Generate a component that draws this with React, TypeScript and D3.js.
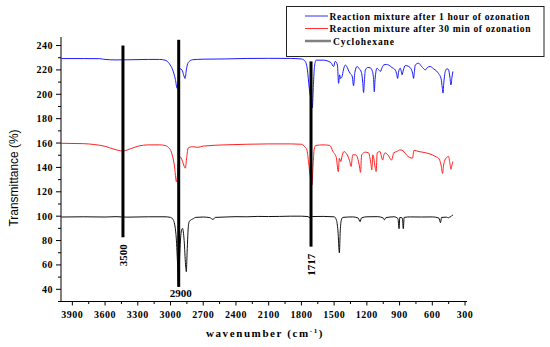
import React from 'react';
import * as d3 from 'd3';

// FTIR spectra, [wavenumber cm-1, transmittance %]
const oneHourSpectrum: [number, number][] = [
  [4000, 229.3], [3800, 229.3], [3650, 229.2], [3600, 228.6], [3500, 228.2], [3400, 228.3], [3200, 228.6],
  [3100, 228.6], [3050, 228], [3010, 225], [2980, 220], [2955, 212], [2940, 205], [2928, 212], [2915, 221],
  [2895, 220], [2880, 216], [2866, 213], [2855, 220], [2838, 226], [2800, 228.3], [2700, 228.8], [2500, 229],
  [2300, 229.4], [2100, 229.5], [1900, 229.4], [1800, 229], [1765, 227], [1745, 220], [1728, 205], [1712, 195],
  [1700, 189], [1690, 208], [1680, 223], [1665, 228], [1600, 228], [1530, 226], [1505, 222.8], [1490, 227], [1470, 224],
  [1459, 209], [1450, 216], [1440, 213], [1428, 214.5], [1415, 220], [1398, 224], [1380, 222], [1365, 219],
  [1352, 217], [1335, 215], [1322, 207], [1310, 218], [1290, 222.8], [1270, 221], [1250, 218], [1238, 210],
  [1230, 201.4], [1222, 212], [1214, 220], [1190, 222], [1169, 221.7], [1150, 219], [1138, 212], [1132, 202],
  [1125, 212], [1107, 221.4], [1090, 220], [1077, 218.7], [1060, 222], [1047, 224], [1020, 224.5], [1001, 224],
  [970, 222], [940, 220], [925, 216], [918, 213], [910, 218], [894, 221.4], [885, 219], [878, 216], [865, 220],
  [848, 223.6], [820, 223], [790, 220], [778, 216], [772, 213], [765, 218], [756, 224], [726, 225.5], [700, 223],
  [680, 221], [665, 220], [645, 222], [619, 222.8], [590, 221], [560, 219], [543, 217], [520, 213], [508, 205],
  [502, 201], [496, 208], [481, 218.7], [465, 221], [451, 220], [440, 215], [429, 207.7], [420, 214], [411, 218.7],
];

const halfHourSpectrum: [number, number][] = [
  [4000, 159.8], [3800, 159.5], [3700, 158.8], [3600, 157.3], [3520, 155], [3440, 153.5], [3360, 155.5],
  [3290, 157.6], [3200, 158.5], [3100, 158.5], [3050, 158], [3020, 156.5], [2990, 152], [2965, 142], [2945, 128],
  [2932, 138], [2918, 149], [2905, 148], [2890, 145], [2875, 141], [2864, 139.4], [2852, 148], [2838, 156],
  [2800, 157], [2750, 156.5], [2700, 157.5], [2500, 158.5], [2300, 159], [2100, 159.3], [1900, 159.3], [1800, 159],
  [1770, 157], [1750, 154.4], [1735, 145], [1718, 132], [1703, 125.6], [1693, 142], [1683, 155], [1670, 158],
  [1600, 158.5], [1540, 158], [1510, 153], [1480, 148], [1462, 136.6], [1452, 147.6], [1440, 144.8], [1425, 150],
  [1410, 153], [1380, 150.3], [1360, 146], [1344, 140.8], [1330, 150.3], [1300, 150.3], [1270, 142], [1258, 136],
  [1248, 150.3], [1215, 152.5], [1185, 152], [1163, 143], [1155, 138], [1145, 150.3], [1122, 139], [1115, 136.6],
  [1105, 152], [1080, 153], [1055, 146], [1045, 150], [1034, 152], [1000, 149.4], [975, 146], [960, 150],
  [955, 152], [925, 153], [895, 154.4], [860, 153], [835, 150], [782, 147.6], [768, 154], [722, 153], [660, 152],
  [600, 150.3], [560, 148.5], [543, 147.6], [520, 142], [506, 135], [498, 141], [485, 146], [470, 148],
  [451, 149], [440, 144], [429, 138.5], [420, 142], [411, 144.8],
];

const cyclohexaneSpectrum: [number, number][] = [
  [4000, 99.3], [3800, 99.5], [3600, 99.3], [3500, 99.6], [3400, 99.2], [3200, 99.5], [3050, 99.5], [3000, 99],
  [2975, 97], [2950, 85], [2935, 60], [2926, 42], [2915, 70], [2900, 88], [2890, 90], [2875, 80], [2862, 60],
  [2855, 54.5], [2848, 70], [2835, 93], [2825, 96], [2790, 98], [2770, 99], [2700, 99.3], [2640, 98.8],
  [2610, 97.3], [2590, 99], [2500, 99.3], [2400, 99.6], [2300, 99.5], [2200, 99.8], [2100, 99.7], [2000, 99.8],
  [1900, 100], [1800, 100], [1740, 99.7], [1720, 98.5], [1700, 99.7], [1600, 99.8], [1500, 99.5], [1480, 97],
  [1465, 88], [1452, 70], [1444, 88], [1435, 96.5], [1420, 99], [1330, 99.4], [1280, 98.5], [1262, 95.5],
  [1250, 98.5], [1200, 99.5], [1100, 99.6], [1050, 98.5], [1040, 97], [1025, 98.8], [950, 99.5], [915, 98],
  [905, 89.7], [898, 99], [875, 98.5], [866, 89.7], [858, 99], [800, 99.4], [700, 99.3], [600, 99.4],
  [540, 98.5], [525, 94.7], [515, 99], [470, 99.2], [450, 98.5], [440, 99.5], [430, 99.6], [420, 100.5], [411, 101],
];

const seriesNames = [
  'Reaction mixture after 1 hour of ozonation',
  'Reaction mixture after 30 min of ozonation',
  'Cyclohexane',
];
const seriesColors = ['#1a1aff', '#ff2020', '#111111'];
const legendColors = ['#3030ff', '#ff3030', '#808080'];

// annotation bars: position label, [top, bottom] in %
const markerWavenumbers = [3436, 2925, 1712];
const markerLabels = ['3500', '2900', '1717'];
const markerRanges: [number, number][] = [[240, 82.7], [244.7, 42], [227, 75]];

const xTicks = [3900, 3600, 3300, 3000, 2700, 2400, 2100, 1800, 1500, 1200, 900, 600, 300];
const yTicks = [40, 60, 80, 100, 120, 140, 160, 180, 200, 220, 240];

const App = () => {
  const width = 550;
  const height = 347;
  const left = 61, right = 467, top = 37, bottom = 301.5;

  const x = d3.scaleLinear().domain([4004, 282]).range([left, right]);
  const y = d3.scaleLinear().domain([30, 247]).range([bottom, top]);

  const line = d3.line<[number, number]>()
    .x(d => x(d[0]))
    .y(d => y(d[1]))
    .curve(d3.curveMonotoneX);

  const spectra = [oneHourSpectrum, halfHourSpectrum, cyclohexaneSpectrum];
  const xMinor = xTicks.slice(0, -1).map(t => t - 150);
  const yMinor = yTicks.slice(0, -1).map(t => t + 10).concat([30]);

  const serif = '"Liberation Serif", "Times New Roman", serif';

  return (
    <svg width={width} height={height} style={{ position: 'absolute', left: 0, top: 0, background: '#fff' }}>
      {/* spectra */}
      {spectra.map((s, i) => (
        <path key={i} d={line(s) || ''} fill="none" stroke={seriesColors[i]} strokeWidth={1} />
      ))}

      {/* annotation bars */}
      {markerWavenumbers.map((w, i) => (
        <line key={i} x1={x(w)} x2={x(w)} y1={y(markerRanges[i][0])} y2={y(markerRanges[i][1])}
          stroke="#000" strokeWidth={3} />
      ))}
      <text transform={`translate(${x(markerWavenumbers[0]) + 4},${y(markerRanges[0][1]) + 18})rotate(-90)`}
        fontFamily={serif} fontWeight="bold" fontSize={11} textAnchor="middle">{markerLabels[0]}</text>
      <text x={x(markerWavenumbers[1]) + 2} y={y(markerRanges[1][1]) + 10}
        fontFamily={serif} fontWeight="bold" fontSize={11} textAnchor="middle">{markerLabels[1]}</text>
      <text transform={`translate(${x(markerWavenumbers[2]) + 4},${y(markerRanges[2][1]) + 18})rotate(-90)`}
        fontFamily={serif} fontWeight="bold" fontSize={11} textAnchor="middle">{markerLabels[2]}</text>

      {/* axes */}
      <line x1={left} x2={left} y1={top} y2={bottom} stroke="#000" strokeWidth={1} />
      <line x1={left} x2={right} y1={bottom} y2={bottom} stroke="#000" strokeWidth={1} />
      {xTicks.map(t => (
        <g key={t}>
          <line x1={x(t)} x2={x(t)} y1={bottom} y2={bottom + 4} stroke="#000" />
          <text x={x(t)} y={bottom + 16} fontFamily={serif} fontWeight="bold" fontSize={10}
            letterSpacing={0.5} textAnchor="middle">{t}</text>
        </g>
      ))}
      {xMinor.map(t => (
        <line key={t} x1={x(t)} x2={x(t)} y1={bottom} y2={bottom + 2.5} stroke="#000" />
      ))}
      {yTicks.map(t => (
        <g key={t}>
          <line x1={left - 5} x2={left} y1={y(t)} y2={y(t)} stroke="#000" />
          <text x={left - 8} y={y(t) + 3.5} fontFamily={serif} fontWeight="bold" fontSize={10}
            letterSpacing={0.5} textAnchor="end">{t}</text>
        </g>
      ))}
      {yMinor.map(t => (
        <line key={t} x1={left - 3} x2={left} y1={y(t)} y2={y(t)} stroke="#000" />
      ))}

      {/* axis titles */}
      <text x={265} y={337} fontFamily={serif} fontWeight="bold" fontSize={11} letterSpacing={1.6}
        textAnchor="middle">wavenumber (cm<tspan dy={-4} fontSize={7}>-1</tspan><tspan dy={4}>)</tspan></text>
      <text transform="translate(18,178)rotate(-90)" fontFamily='"Liberation Sans Narrow", "Liberation Sans", Arial, sans-serif'
        fontSize={13} textAnchor="middle" textLength={97} lengthAdjust="spacingAndGlyphs">Transmittance (%)</text>

      {/* legend */}
      <rect x={286.5} y={6.5} width={257.5} height={50} fill="#fff" stroke="#222" strokeWidth={1} />
      {seriesNames.map((n, i) => (
        <g key={n}>
          <line x1={305} x2={i === 2 ? 331 : 328} y1={16 + i * 12.5} y2={16 + i * 12.5}
            stroke={legendColors[i]} strokeWidth={i === 2 ? 2.5 : 1} />
          <text x={i === 2 ? 333 : 329.5} y={19.5 + i * 12.5} fontFamily={serif} fontWeight="bold" fontSize={9.5}
            textLength={i === 0 ? 200 : i === 1 ? 201 : 61} lengthAdjust="spacing">{n}</text>
        </g>
      ))}
    </svg>
  );
};

export default App;
